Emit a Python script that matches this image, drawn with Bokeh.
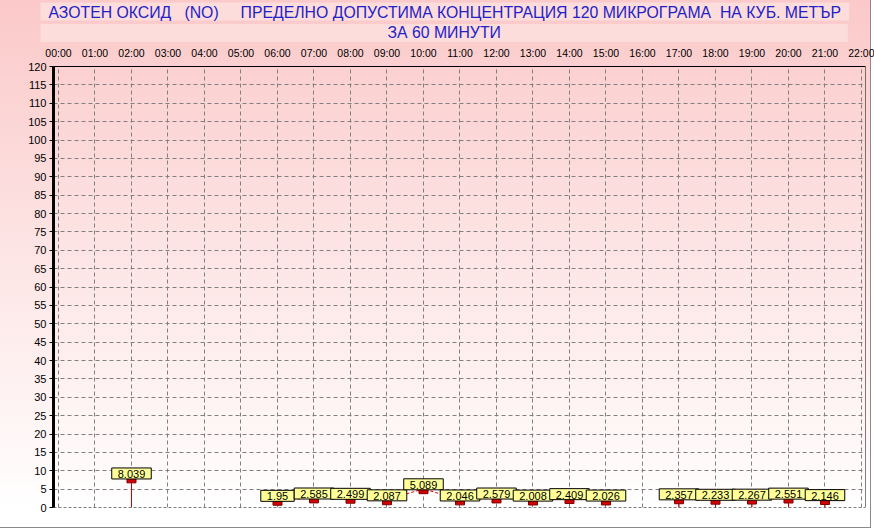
from bokeh.plotting import figure
from bokeh.models import (LinearAxis, FixedTicker, Range1d, ColumnDataSource, Title,
                          Grid, Span)
from bokeh.transform import dodge
from bokeh.core.properties import value
from bokeh.embed import file_html
from bokeh.resources import INLINE

# ---- data ----
title_line1 = "АЗОТЕН ОКСИД   (NO)     ПРЕДЕЛНО ДОПУСТИМА КОНЦЕНТРАЦИЯ 120 МИКРОГРАМА  НА КУБ. МЕТЪР"
title_line2 = "ЗА 60 МИНУТИ"
hours = list(range(0, 23))
hour_labels = ["%02d:00" % h for h in hours]
y_ticks = list(range(0, 121, 5))

meas_hours = [2, 6, 7, 8, 9, 10, 11, 12, 13, 14, 15, 17, 18, 19, 20, 21]
meas_values = [8.039, 1.95, 2.585, 2.499, 2.087, 5.089, 2.046, 2.579, 2.008,
               2.409, 2.026, 2.357, 2.233, 2.267, 2.551, 2.146]
meas_labels = ["8.039", "1.95", "2.585", "2.499", "2.087", "5.089", "2.046", "2.579",
               "2.008", "2.409", "2.026", "2.357", "2.233", "2.267", "2.551", "2.146"]
stem_hours = [2, 17, 18, 19, 20, 21]

FONT = "Liberation Sans"
TITLE_COLOR = "#2222c8"
TITLE_BOX = "#fddcdc"

# keep runs of spaces visible
def keep_spaces(s):
    return s.replace("  ", "\u00a0\u00a0")

# line series with gaps (NaN) for missing hours
vals_by_hour = dict(zip(meas_hours, meas_values))
line_x = list(range(0, 22))
line_y = [vals_by_hour.get(h, float("nan")) for h in line_x]

src = ColumnDataSource(dict(h=meas_hours, v=meas_values, t=meas_labels))
stem_src = ColumnDataSource(dict(h=stem_hours, v=[vals_by_hour[h] for h in stem_hours],
                                 z=[0] * len(stem_hours)))

bg = ("linear-gradient(to bottom, #fbc9c9 0%, #fde3e3 45%, #fff8f8 85%, #ffffff 96%)")
shadow = ("inset -3px 0 0 0 #ffffff, inset 0 -1px 0 0 #ffffff, "
          "inset -4px 0 0 0 #8a8a8a, inset 0 -2px 0 0 #8a8a8a")

p = figure(width=874, height=529, output_backend="svg", toolbar_location=None,
           title=None,
           x_range=Range1d(-0.137, 22.11), y_range=Range1d(0, 120),
           x_axis_location=None, y_axis_location="left",
           min_border_left=53, min_border_right=9, min_border_top=66, min_border_bottom=22,
           border_fill_color=None, background_fill_color=None, outline_line_color=None,
           styles={"background": bg, "box-shadow": shadow})

# grids
p.center = []
p.add_layout(Grid(dimension=0, ticker=FixedTicker(ticks=hours), grid_line_color="#808080",
                  grid_line_dash="4 3", grid_line_width=1))
p.add_layout(Grid(dimension=1, ticker=FixedTicker(ticks=y_ticks), grid_line_color="#808080",
                  grid_line_dash="4 3", grid_line_width=1))

# left axis
ya = p.yaxis[0]
ya.ticker = FixedTicker(ticks=y_ticks)
ya.axis_line_color = "black"
ya.axis_line_width = 3
ya.major_tick_out = 4
ya.major_tick_in = 0
ya.major_tick_line_color = "black"
ya.minor_tick_line_color = None
ya.major_label_standoff = 3
ya.major_label_text_font = FONT
ya.major_label_text_font_size = "11px"
ya.major_label_text_color = "black"

# top axis with hour labels (closest to the frame)
ta = LinearAxis(ticker=FixedTicker(ticks=hours),
                major_label_overrides={h: lab for h, lab in zip(hours, hour_labels)})
ta.axis_line_color = "black"
ta.axis_line_width = 1
ta.major_tick_out = 0
ta.major_tick_in = 0
ta.minor_tick_line_color = None
ta.major_label_standoff = 8
ta.major_label_text_font = FONT
ta.major_label_text_font_size = "10.5px"
ta.major_label_text_color = "black"
p.add_layout(ta, "above")

# title: two stacked lines sharing one box
t2 = Title(text=title_line2, align="left", offset=-13, standoff=3,
           text_color=TITLE_COLOR, text_font=FONT, text_font_size="15.8px",
           text_font_style="normal", background_fill_color=TITLE_BOX,
           padding=dict(left=347, right=347, top=0, bottom=1))
t1 = Title(text=keep_spaces(title_line1), align="left", offset=-13, standoff=0,
           text_color=TITLE_COLOR, text_font=FONT, text_font_size="15.8px",
           text_font_style="normal", background_fill_color=TITLE_BOX,
           padding=dict(left=8, right=8, top=1, bottom=0))
p.add_layout(t2, "above")
p.add_layout(t1, "above")

# frame borders: right solid, bottom dashed
p.add_layout(Span(location=p.x_range.end, dimension="height", line_color="black", line_width=1))
p.add_layout(Span(location=0, dimension="width", line_color="black", line_width=1, line_dash="3 2"))

# series
p.line(line_x, line_y, line_color="#e00000", line_width=1, line_dash="3 2")
p.segment(x0="h", y0="z", x1="h", y1="v", source=stem_src, line_color="#d00000", line_width=1)
p.rect(x="h", y=dodge("v", -0.65), width=9, height=5, width_units="screen", height_units="screen",
       source=src, fill_color="#d00000", line_color="#800000", line_width=1)
p.text(x="h", y="v", text="t", source=src, text_align="center", text_baseline="bottom",
       text_font=value(FONT), text_font_size="11px", text_color="black",
       background_fill_color="#ffff99", border_line_color="black", border_line_width=1,
       padding=dict(left=6, right=6, top=2, bottom=1), y_offset=1)

open("out.html", "w").write(file_html(p, INLINE))
